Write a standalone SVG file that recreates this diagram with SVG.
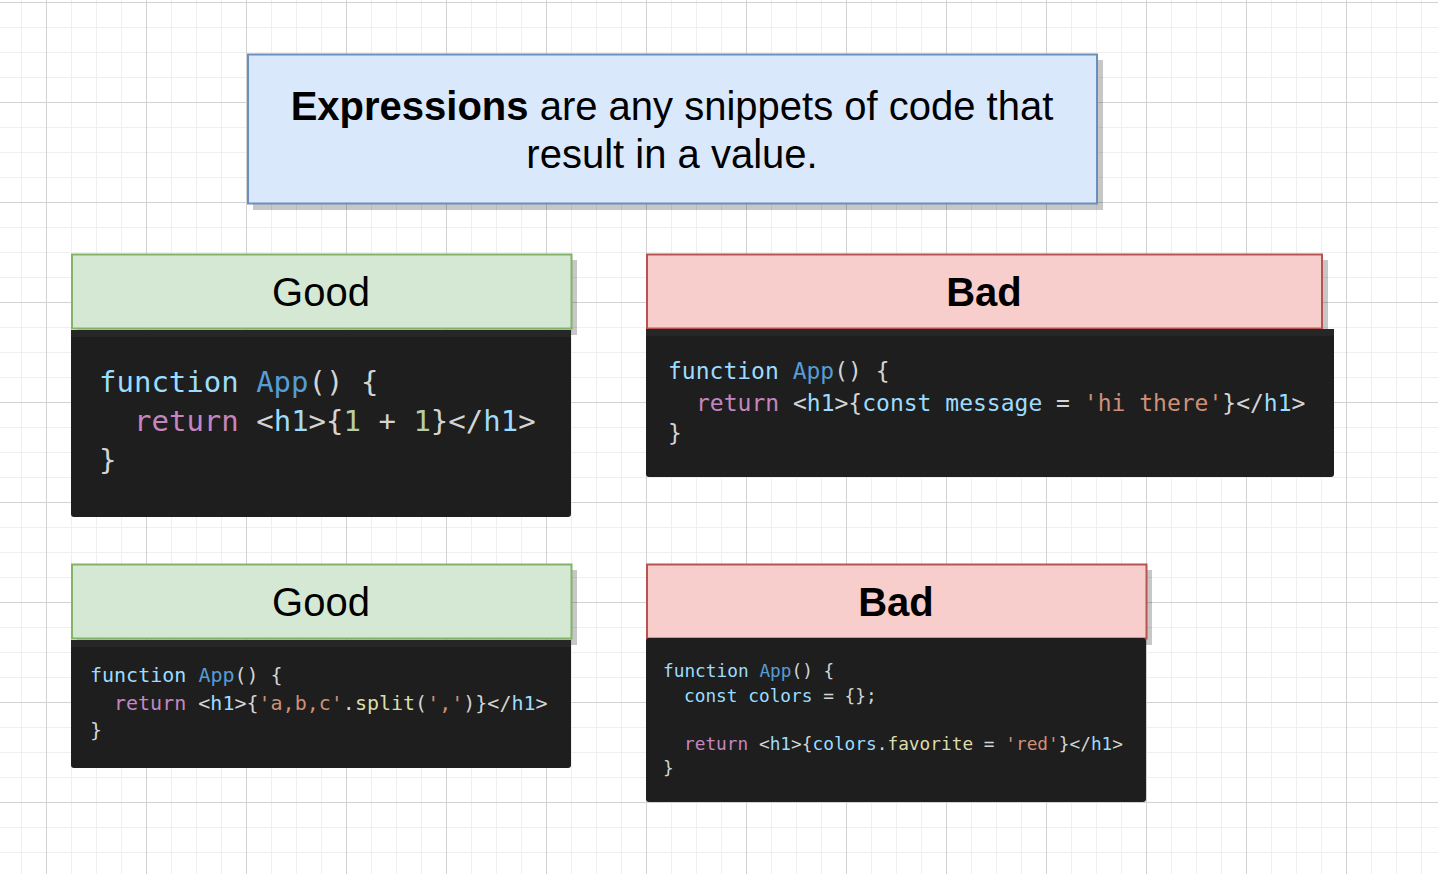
<svg xmlns="http://www.w3.org/2000/svg" width="1438" height="874" viewBox="0 0 1438 874">
<style>
.hdr{font-family:"Liberation Sans",Arial,sans-serif;font-size:40px;fill:#000;text-anchor:middle}
.code{font-family:"DejaVu Sans Mono",monospace;fill:#d4d4d4}
.kw{fill:#9cdcfe}.fn{fill:#569cd6}.rt{fill:#c586c0}.tg{fill:#9cdcfe}.nm{fill:#b5cea8}.st{fill:#ce9178}.me{fill:#dcdcaa}
.shadow{fill:#000;opacity:0.22}
.cb{fill:#1e1e1e}
.cbt{fill:#262626}
</style>
<defs>
<pattern id="minor" width="25" height="25" patternUnits="userSpaceOnUse" x="46" y="2">
<path d="M0.5 0V25M0 0.5H25" stroke="#efefef" stroke-width="1" fill="none"/>
</pattern>
<pattern id="major" width="100" height="100" patternUnits="userSpaceOnUse" x="46" y="2">
<path d="M0.5 0V100M0 0.5H100" stroke="#d2d2d2" stroke-width="1" fill="none"/>
</pattern>
</defs>
<rect width="1438" height="874" fill="#fff"/>
<rect width="1438" height="874" fill="url(#minor)"/>
<rect width="1438" height="874" fill="url(#major)"/>

<g id="title">
<rect class="shadow" x="253" y="60" width="850" height="150"/>
<rect x="248" y="54.5" width="849" height="149" fill="#dae8fc" stroke="#6c8ebf" stroke-width="2"/>
<text class="hdr" x="672" y="120"><tspan font-weight="bold">Expressions</tspan> are any snippets of code that</text>
<text class="hdr" x="672" y="168">result in a value.</text>
</g>

<g id="good1-header">
<rect class="shadow" x="77" y="260" width="500" height="75"/>
<rect x="72" y="254.5" width="499.5" height="74" fill="#d5e8d4" stroke="#82b366" stroke-width="2"/>
<text class="hdr" x="321" y="306">Good</text>
</g>
<g id="good1-code">
<rect class="cb" x="71" y="330" width="500" height="187" rx="3"/>
<rect class="cbt" x="71" y="330" width="500" height="7"/>
<text class="code" font-size="29" x="99" y="392"><tspan class="kw">function</tspan> <tspan class="fn">App</tspan>() {</text>
<text class="code" font-size="29" x="134" y="431"><tspan class="rt">return</tspan> &lt;<tspan class="tg">h1</tspan>&gt;{<tspan class="nm">1</tspan> + <tspan class="nm">1</tspan>}&lt;/<tspan class="tg">h1</tspan>&gt;</text>
<text class="code" font-size="29" x="99" y="470">}</text>
</g>

<g id="bad1-header">
<rect class="shadow" x="652" y="260" width="676" height="75"/>
<rect x="647" y="254.5" width="675" height="74" fill="#f8cecc" stroke="#b85450" stroke-width="2"/>
<text class="hdr" font-weight="bold" x="984" y="306">Bad</text>
</g>
<g id="bad1-code">
<rect class="cb" x="646" y="329" width="688" height="148" rx="3"/>
<rect class="cbt" x="646" y="329" width="688" height="7"/>
<text class="code" font-size="23" x="668" y="379"><tspan class="kw">function</tspan> <tspan class="fn">App</tspan>() {</text>
<text class="code" font-size="23" x="696" y="411"><tspan class="rt">return</tspan> &lt;<tspan class="tg">h1</tspan>&gt;{<tspan class="kw">const</tspan> <tspan class="kw">message</tspan> = <tspan class="st">'hi there'</tspan>}&lt;/<tspan class="tg">h1</tspan>&gt;</text>
<text class="code" font-size="23" x="668" y="441">}</text>
</g>

<g id="good2-header">
<rect class="shadow" x="77" y="570" width="500" height="75"/>
<rect x="72" y="564.5" width="499.5" height="74" fill="#d5e8d4" stroke="#82b366" stroke-width="2"/>
<text class="hdr" x="321" y="616">Good</text>
</g>
<g id="good2-code">
<rect class="cb" x="71" y="640" width="500" height="128" rx="3"/>
<rect class="cbt" x="71" y="640" width="500" height="7"/>
<text class="code" font-size="20" x="90" y="682"><tspan class="kw">function</tspan> <tspan class="fn">App</tspan>() {</text>
<text class="code" font-size="20" x="114" y="710"><tspan class="rt">return</tspan> &lt;<tspan class="tg">h1</tspan>&gt;{<tspan class="st">'a,b,c'</tspan>.<tspan class="me">split</tspan>(<tspan class="st">','</tspan>)}&lt;/<tspan class="tg">h1</tspan>&gt;</text>
<text class="code" font-size="20" x="90" y="737">}</text>
</g>

<g id="bad2-header">
<rect class="shadow" x="652" y="570" width="500" height="75"/>
<rect x="647" y="564.5" width="499.5" height="74" fill="#f8cecc" stroke="#b85450" stroke-width="2"/>
<text class="hdr" font-weight="bold" x="896" y="616">Bad</text>
</g>
<g id="bad2-code">
<rect class="cb" x="646" y="638" width="500" height="164" rx="3"/>
<text class="code" font-size="17.8" x="663" y="677"><tspan class="kw">function</tspan> <tspan class="fn">App</tspan>() {</text>
<text class="code" font-size="17.8" x="684" y="701.5"><tspan class="kw">const</tspan> <tspan class="kw">colors</tspan> = {};</text>
<text class="code" font-size="17.8" x="684" y="750"><tspan class="rt">return</tspan> &lt;<tspan class="tg">h1</tspan>&gt;{<tspan class="kw">colors</tspan>.<tspan class="me">favorite</tspan> = <tspan class="st">'red'</tspan>}&lt;/<tspan class="tg">h1</tspan>&gt;</text>
<text class="code" font-size="17.8" x="663" y="774">}</text>
</g>
<g id="connectors"/>
</svg>
